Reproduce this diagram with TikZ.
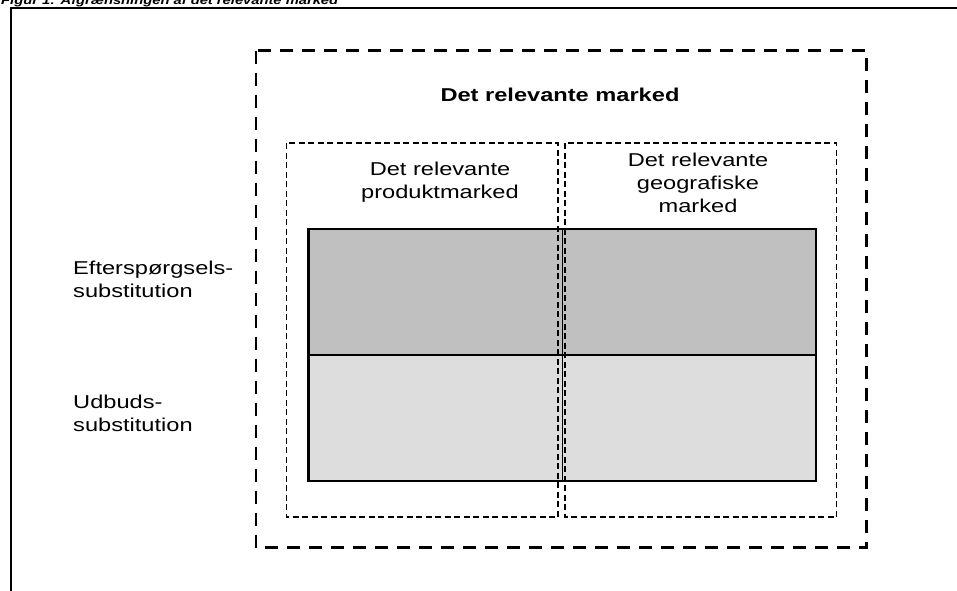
\documentclass[tikz,border=0pt]{standalone}
\usepackage{fontspec}
\setmainfont{Liberation Sans}[FakeStretch=1.27]
\definecolor{bandtop}{HTML}{C0C0C0}
\definecolor{bandbot}{HTML}{DDDDDD}
\begin{document}
\begin{tikzpicture}[x=1pt,y=-1pt,
  txt/.style={font=\fontsize{18.6}{22.8}\selectfont, inner sep=0pt, anchor=base},
  ltxt/.style={txt, anchor=base west},
  ttl/.style={font=\fontsize{11.6}{14}\selectfont\bfseries\itshape, inner sep=0pt, anchor=base west},
  outerbox/.style={line width=2.8pt, dash pattern=on 13pt off 9pt},
  innerbox/.style={line width=1.2pt, dash pattern=on 6pt off 3.5pt},
  frame/.style={line width=2pt},
  solidbox/.style={line width=2.8pt},
  thinline/.style={line width=1.3pt}]
\useasboundingbox (0,0) rectangle (957,590);
\clip (0,0) rectangle (957,590);
\fill[white] (0,0) rectangle (957,590);
% title (cut off at top)
\node[ttl] (title) at (1,4) {Figur 1: Afgrænsningen af det relevante marked};
% frame
\draw[frame] (11,600) -- (11,8) -- (970,8);
% outer dashed box
\draw[outerbox] (256,50.5) rectangle (866.5,547.5);
% shaded bands
\fill[bandtop] (308.5,229) rectangle (816,355);
\fill[bandbot] (308.5,355) rectangle (816,481);
\draw[thinline] (308.5,355) -- (816,355);
\draw[thinline] (562.5,229) -- (562.5,481);
\draw[solidbox] (308.5,229) rectangle (816,481);
% inner dashed boxes
\draw[innerbox] (286.5,143) rectangle (558,517);
\draw[innerbox] (565,143) rectangle (836.5,517);
% texts
\node[txt, font=\fontsize{18.6}{22.8}\selectfont\bfseries] (market) at (560,101.7) {Det relevante marked};
\node[txt] (prod1) at (440,175.7) {Det relevante};
\node[txt] (prod2) at (440,198.5) {produktmarked};
\node[txt] (geo1) at (698,166) {Det relevante};
\node[txt] (geo2) at (698,189) {geografiske};
\node[txt] (geo3) at (698,212) {marked};
\node[ltxt] (eft1) at (73,274.3) {Efterspørgsels-};
\node[ltxt] (eft2) at (73,297) {substitution};
\node[ltxt] (udb1) at (73,408.5) {Udbuds-};
\node[ltxt] (udb2) at (73,431.5) {substitution};
\end{tikzpicture}
\end{document}
